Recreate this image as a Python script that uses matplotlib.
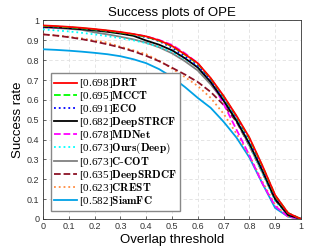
import numpy as np
import matplotlib
matplotlib.use("Agg")
import matplotlib.pyplot as plt

plt.rcParams['mathtext.fontset'] = 'cm'
plt.rcParams['font.family'] = ['Liberation Sans', 'DejaVu Sans']

thresholds = np.linspace(0, 1, 21)

names = ["DRT", "MCCT", "ECO", "DeepSTRCF", "MDNet", "Ours(Deep)", "C-COT",
         "DeepSRDCF", "CREST", "SiamFC"]
scores = [0.698, 0.695, 0.691, 0.682, 0.678, 0.673, 0.673, 0.635, 0.623, 0.582]

drt = [0.975, 0.972, 0.968, 0.963, 0.957, 0.950, 0.942, 0.932, 0.920, 0.900, 0.872,
       0.830, 0.785, 0.710, 0.620, 0.520, 0.410, 0.270, 0.120, 0.030, 0.0]
mcct = [0.973, 0.970, 0.966, 0.961, 0.955, 0.948, 0.940, 0.930, 0.918, 0.898, 0.870,
        0.828, 0.782, 0.707, 0.617, 0.517, 0.405, 0.267, 0.118, 0.030, 0.0]
eco = [0.970, 0.968, 0.965, 0.960, 0.954, 0.947, 0.939, 0.929, 0.916, 0.896, 0.863,
       0.820, 0.772, 0.700, 0.610, 0.510, 0.395, 0.258, 0.115, 0.028, 0.0]
deepstrcf = [0.968, 0.965, 0.961, 0.956, 0.950, 0.943, 0.934, 0.923, 0.899, 0.878, 0.850,
             0.810, 0.763, 0.690, 0.597, 0.495, 0.380, 0.245, 0.100, 0.020, 0.0]
mdnet = [0.967, 0.965, 0.962, 0.958, 0.953, 0.947, 0.940, 0.931, 0.920, 0.902, 0.877,
         0.835, 0.785, 0.700, 0.580, 0.450, 0.320, 0.180, 0.065, 0.012, 0.0]
ours = [0.955, 0.950, 0.945, 0.938, 0.930, 0.921, 0.911, 0.900, 0.886, 0.867, 0.842,
        0.806, 0.765, 0.695, 0.605, 0.505, 0.375, 0.235, 0.090, 0.020, 0.0]
ccot = [0.965, 0.962, 0.958, 0.953, 0.940, 0.930, 0.918, 0.905, 0.888, 0.865, 0.835,
        0.795, 0.748, 0.678, 0.595, 0.495, 0.370, 0.235, 0.100, 0.020, 0.0]
deepsrdcf = [0.930, 0.924, 0.916, 0.906, 0.894, 0.880, 0.864, 0.845, 0.822, 0.795, 0.762,
             0.728, 0.690, 0.640, 0.575, 0.490, 0.370, 0.235, 0.095, 0.020, 0.0]
crest = [0.930, 0.925, 0.918, 0.910, 0.900, 0.888, 0.868, 0.850, 0.830, 0.798, 0.758,
         0.715, 0.670, 0.610, 0.530, 0.430, 0.320, 0.190, 0.070, 0.012, 0.0]
siamfc = [0.855, 0.852, 0.848, 0.843, 0.837, 0.830, 0.820, 0.805, 0.785, 0.755, 0.715,
          0.665, 0.610, 0.560, 0.490, 0.410, 0.310, 0.180, 0.055, 0.012, 0.0]

series = [drt, mcct, eco, deepstrcf, mdnet, ours, ccot, deepsrdcf, crest, siamfc]
colors = [(1, 0, 0), (0, 1, 0), (0, 0, 1), (0, 0, 0), (1, 0, 1), (0, 1, 1),
          (0.5, 0.5, 0.5), (0.55, 0.07, 0.15), (1, 0.55, 0.25), (0.0, 0.63, 0.9)]
styles = ['-', '--', ':', '-', '--', ':', '-', '--', ':', '-']

fig = plt.figure(figsize=(3.32, 2.49), dpi=100)
ax = fig.add_axes([0.1295, 0.1205, 0.7771, 0.7972])

def fmt_name(n):
    return n.replace('-', r'\text{-}')

for i in range(len(series) - 1, -1, -1):
    ax.plot(thresholds, series[i], linestyle=styles[i], color=colors[i], lw=1.3,
            zorder=3 + (len(series) - i) * 0.01)
handles = []
for i in range(len(series)):
    h, = ax.plot([], [], linestyle=styles[i], color=colors[i], lw=1.3,
                 label=r'[%.3f]$\mathbf{%s}$' % (scores[i], fmt_name(names[i])))
    handles.append(h)

ax.set_xlim(0, 1)
ax.set_ylim(0, 1)
ax.set_xticks(np.arange(0, 1.01, 0.1))
ax.set_yticks(np.arange(0, 1.01, 0.1))
ax.set_xticklabels(['0', '0.1', '0.2', '0.3', '0.4', '0.5', '0.6', '0.7', '0.8', '0.9', '1'])
ax.set_yticklabels(['0', '0.1', '0.2', '0.3', '0.4', '0.5', '0.6', '0.7', '0.8', '0.9', '1'])
ax.tick_params(labelsize=6.5, direction='in', length=2.5, width=0.5, colors='#333333', pad=2.5)
ax.grid(True, linestyle=(0, (4, 3)), color='#e0e0e0', lw=0.6)
for s in ax.spines.values():
    s.set_linewidth(0.6)
    s.set_color('#333333')

ax.set_title('Success plots of OPE', fontsize=9.5, pad=3)
ax.set_xlabel('Overlap threshold', fontsize=9.5, labelpad=2)
ax.set_ylabel('Success rate', fontsize=9.5, labelpad=2)

leg = ax.legend(handles=handles, loc='lower left', bbox_to_anchor=(0.03, 0.04),
                prop={'family': 'Liberation Serif', 'size': 8.1},
                handlelength=2.0, handletextpad=0.2, labelspacing=-0.1,
                borderpad=0.3, borderaxespad=0, frameon=True, fancybox=False)
leg.get_frame().set_edgecolor('#888888')
leg.get_frame().set_linewidth(1.0)
leg.get_frame().set_alpha(1)

fig.savefig('out.png', dpi=100)
